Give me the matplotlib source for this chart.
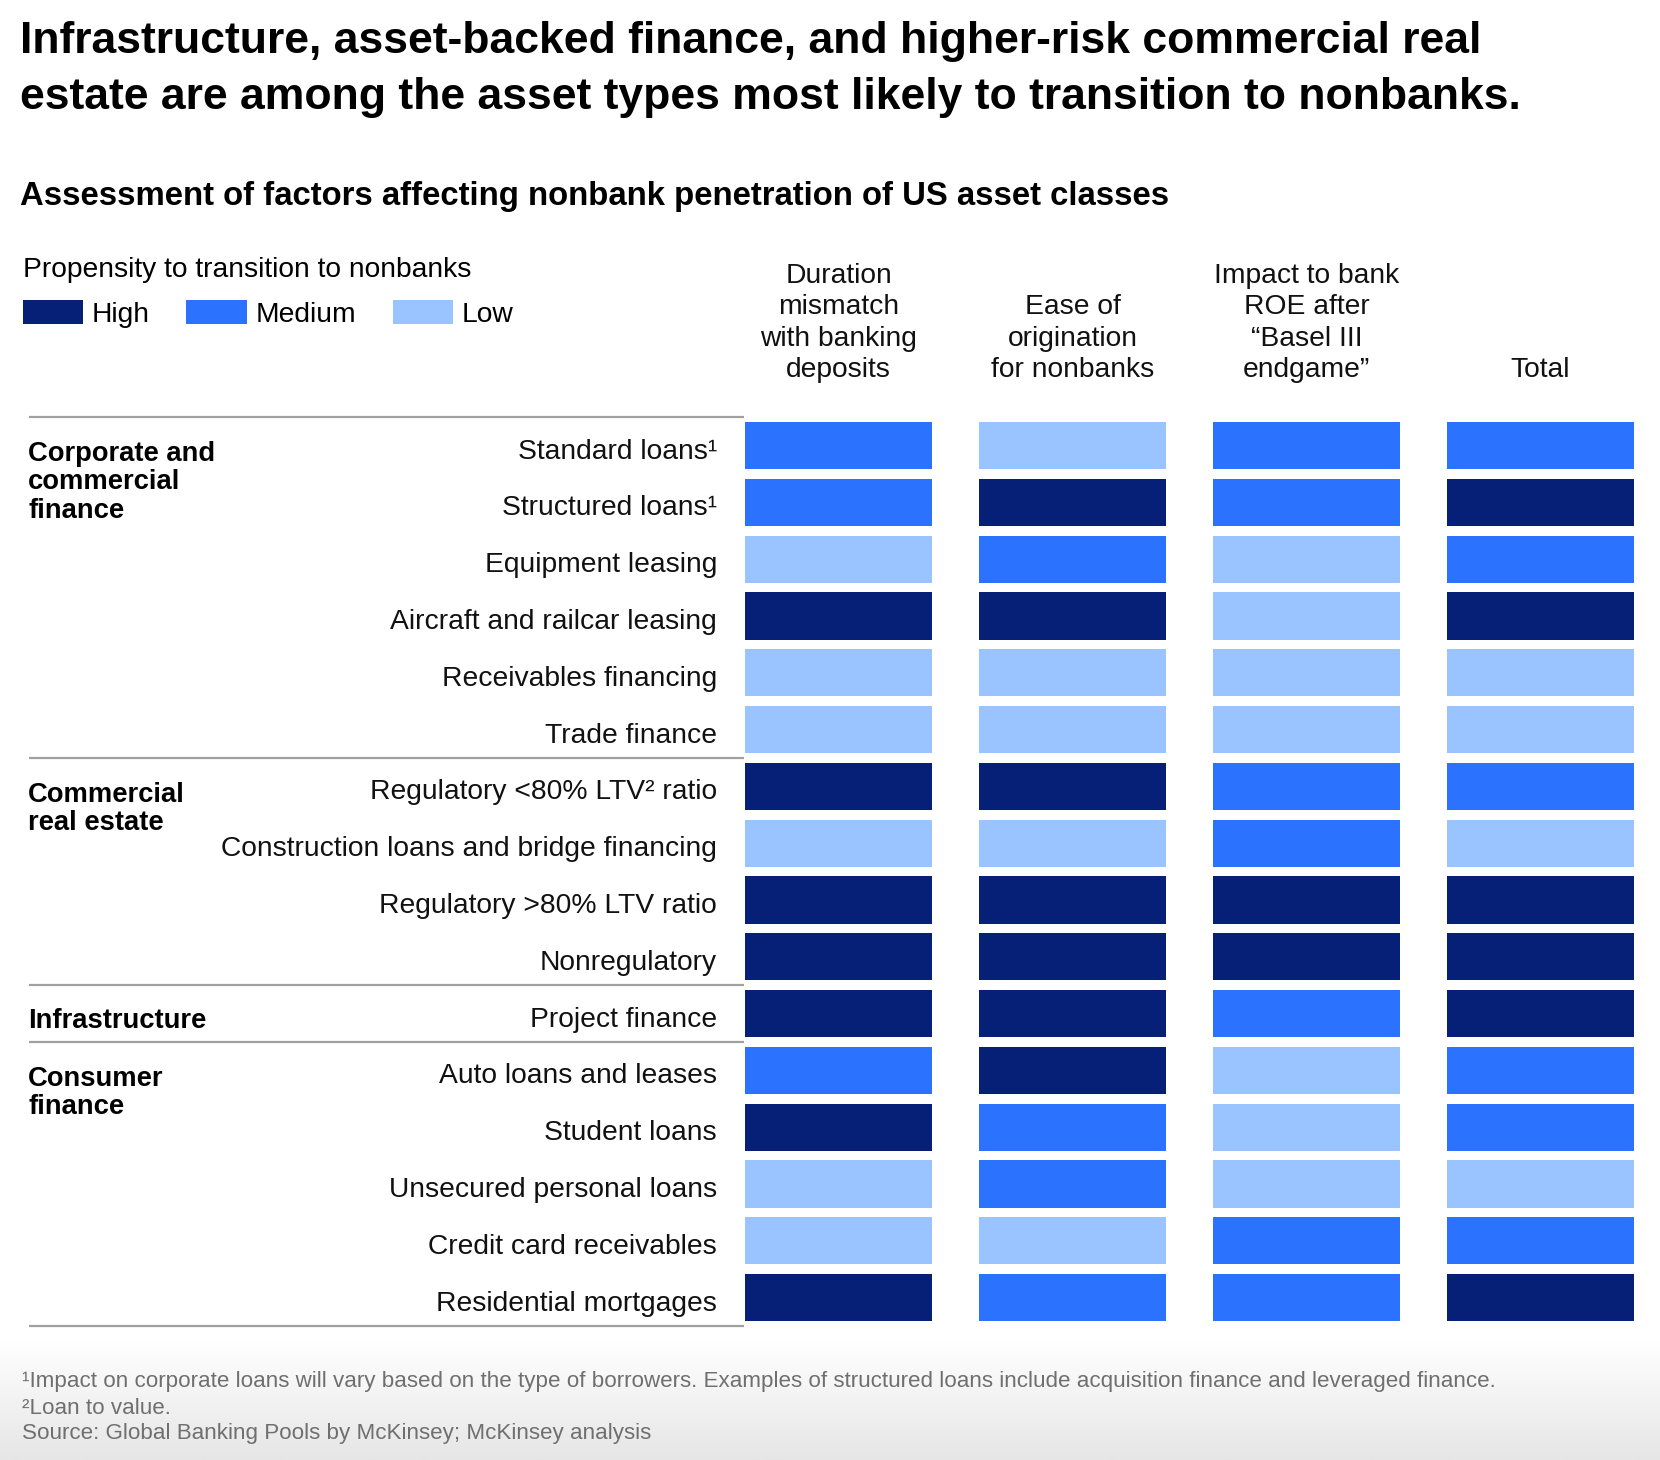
import numpy as np
import matplotlib
matplotlib.use("Agg")
import matplotlib.pyplot as plt
from matplotlib.patches import Patch
from matplotlib.transforms import blended_transform_factory

plt.rcParams['font.family'] = ['Liberation Sans', 'DejaVu Sans']

# --- data -------------------------------------------------------------
columns = ["Duration\nmismatch\nwith banking\ndeposits",
           "Ease of\norigination\nfor nonbanks",
           "Impact to bank\nROE after\n\u201cBasel III\nendgame\u201d",
           "Total"]

row_labels = ["Standard loans\u00b9", "Structured loans\u00b9", "Equipment leasing",
              "Aircraft and railcar leasing", "Receivables financing", "Trade finance",
              "Regulatory <80% LTV\u00b2 ratio", "Construction loans and bridge financing",
              "Regulatory >80% LTV ratio", "Nonregulatory",
              "Project finance",
              "Auto loans and leases", "Student loans", "Unsecured personal loans",
              "Credit card receivables", "Residential mortgages"]

groups = ["Corporate and\ncommercial\nfinance", "Commercial\nreal estate",
          "Infrastructure", "Consumer\nfinance"]
group_start = [0, 6, 10, 11]

# H = high, M = medium, L = low propensity
duration = ["M", "M", "L", "H", "L", "L", "H", "L", "H", "H", "H", "M", "H", "L", "L", "H"]
ease     = ["L", "H", "M", "H", "L", "L", "H", "L", "H", "H", "H", "H", "M", "M", "L", "M"]
impact   = ["M", "M", "L", "L", "L", "L", "M", "M", "H", "H", "M", "L", "L", "L", "M", "M"]
total    = ["M", "H", "M", "H", "L", "L", "M", "L", "H", "H", "H", "M", "M", "L", "M", "H"]

levels = ["H", "M", "L"]
level_names = ["High", "Medium", "Low"]
colors = {"H": "#061f77", "M": "#2b72ff", "L": "#99c4ff"}

W, H = 1660, 1460
fig = plt.figure(figsize=(W / 100, H / 100), dpi=100)

def fx(px):
    return px / W

def fy(py):
    return 1 - py / H

# soft grey fade at the bottom
bg = fig.add_axes([0, 0, 1, 120 / H], zorder=-10)
grad = np.linspace(1.0, 0.0, 100)[:, None]
bg.imshow(grad, aspect='auto', cmap=matplotlib.colors.LinearSegmentedColormap.from_list(
    'fade', ['#e6e6e6', '#ffffff']), extent=[0, 1, 0, 1], vmin=0, vmax=1)
bg.axis('off')

# --- grid of boxes ----------------------------------------------------
row_px = 56.8  # pixel height of one row
ax = fig.add_axes([fx(721.5), fy(1326), 936 / W, 16 * row_px / H])
rows = np.arange(len(row_labels))
for j, vals in enumerate([duration, ease, impact, total]):
    ax.barh(rows, 0.8, left=j - 0.4, height=0.83, color=[colors[v] for v in vals])
ax.set_xlim(-0.5, 3.5)
ax.set_ylim(len(row_labels) - 0.5, -0.5)
ax.axis('off')

tr_row = blended_transform_factory(fig.transFigure, ax.transData)
tr_col = blended_transform_factory(ax.transData, fig.transFigure)

seps = [-0.5] + [s - 0.5 for s in group_start[1:]] + [len(row_labels) - 0.5]
ax.hlines(seps, fx(29), fx(744), transform=tr_row, colors='#a0a0a0', lw=1.6, clip_on=False)

base_off = 0.23  # baseline sits a bit below the box centre
for i, lab in enumerate(row_labels):
    ax.text(fx(717), i + base_off, lab, transform=tr_row, ha='right', va='baseline',
            fontsize=20.3, color='#111111')

# multi-line baseline alignment goes to the last line, so shift by the line count
line_step = 28.6 / row_px
for g, s in zip(groups, group_start):
    n = g.count("\n")
    ax.text(fx(28), s + base_off + 0.03 + n * line_step, g, transform=tr_row, ha='left',
            va='baseline', fontsize=19.7, fontweight='bold', linespacing=1.11, color='black')

for j, c in enumerate(columns):
    ax.text(j, fy(383), c, transform=tr_col, ha='center', va='bottom', fontsize=20.3,
            linespacing=1.27, color='#111111')

# --- titles -----------------------------------------------------------
fig.text(fx(20), fy(109), "Infrastructure, asset-backed finance, and higher-risk commercial real\n"
         "estate are among the asset types most likely to transition to nonbanks.",
         ha='left', va='baseline', fontsize=32, fontweight='bold', linespacing=1.48)
fig.text(fx(20), fy(205), "Assessment of factors affecting nonbank penetration of US asset classes",
         ha='left', va='baseline', fontsize=23.7, fontweight='bold')

# --- legend -----------------------------------------------------------
handles = [Patch(facecolor=colors[k], label=n) for k, n in zip(levels, level_names)]
leg = fig.legend(handles=handles, title="Propensity to transition to nonbanks", loc='upper left',
                 bbox_to_anchor=(fx(23), fy(257)), ncol=3, frameon=False, fontsize=20.3,
                 title_fontsize=20.3, alignment='left', borderpad=0, borderaxespad=0,
                 handlelength=2.14, handleheight=0.9, handletextpad=0.3, columnspacing=1.3,
                 labelspacing=0.62)

# --- footnotes --------------------------------------------------------
notes = ["\u00b9Impact on corporate loans will vary based on the type of borrowers. Examples of structured loans include acquisition finance and leveraged finance.",
         "\u00b2Loan to value.",
         "Source: Global Banking Pools by McKinsey; McKinsey analysis"]
for k, n in enumerate(notes):
    fig.text(fx(22), fy(1382 + 26 * k), n, ha='left', va='center', fontsize=16.1, color='#6f6f6f')

fig.savefig("out.png", dpi=100, facecolor='white')
